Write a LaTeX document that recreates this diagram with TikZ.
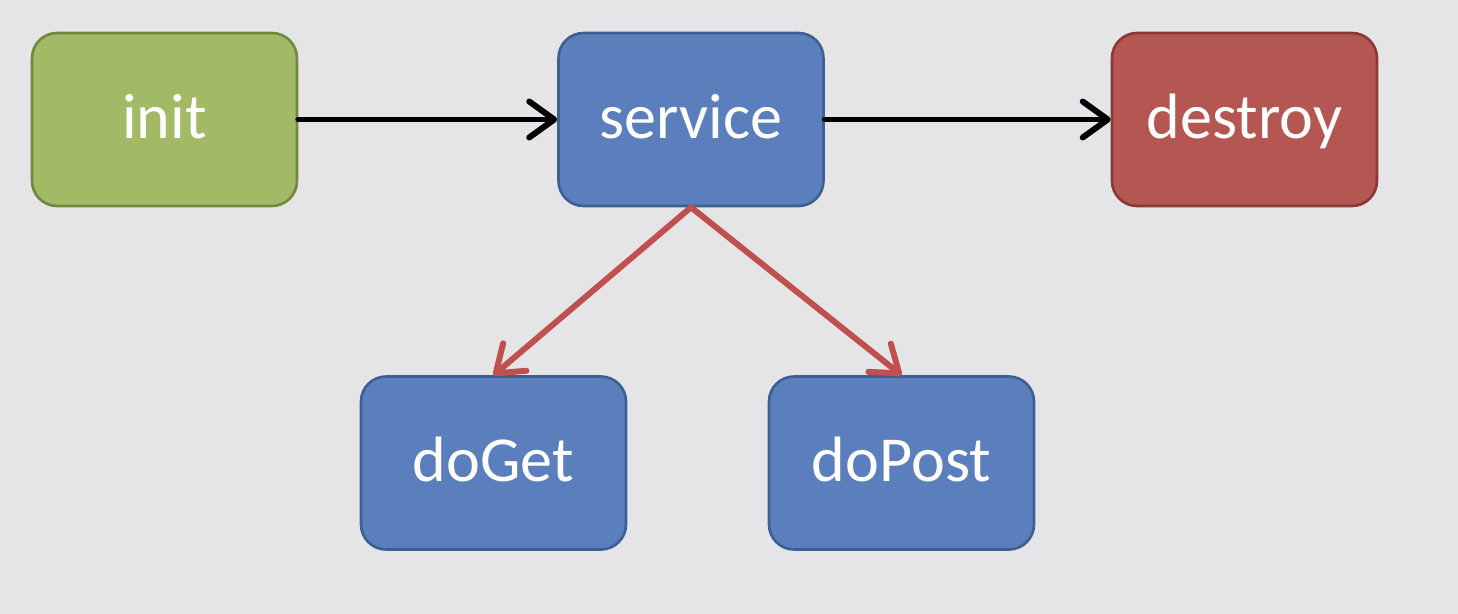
\documentclass[tikz,border=0pt]{standalone}
\usepackage{fontspec}
\setmainfont{Carlito}
\usetikzlibrary{arrows.meta}

\definecolor{bggray}{RGB}{229,229,231}
\definecolor{initgreen}{RGB}{162,185,102}
\definecolor{initedge}{RGB}{113,137,63}
\definecolor{callblue}{RGB}{91,127,189}
\definecolor{calledge}{RGB}{60,95,148}
\definecolor{endred}{RGB}{180,87,82}
\definecolor{endedge}{RGB}{140,56,54}
\definecolor{linkred}{RGB}{192,80,77}

\begin{document}
\begin{tikzpicture}[x=0.02cm, y=-0.02cm,
	phase/.style={draw, line width=1.5pt, rounded corners=0.5cm, minimum width=5.3cm, minimum height=3.46cm, inner sep=0pt, text=white, text height=21.6pt, text depth=0pt, font=\fontsize{36.5}{42}\selectfont},
	flow/.style={line width=3.4pt, line cap=round, -{Straight Barb[round, length=0.5cm, width=0.72cm]}}]
		\useasboundingbox[fill=bggray] (0,0) rectangle (1458,614);
		\node[phase, fill=initgreen, draw=initedge] (init) at (164.5,119.5) {init};
		\node[phase, fill=callblue, draw=calledge] (service) at (691,119.5) {service};
		\node[phase, fill=endred, draw=endedge] (destroy) at (1244.5,119.5) {destroy};
		\node[phase, fill=callblue, draw=calledge] (doGet) at (493.5,463) {doGet};
		\node[phase, fill=callblue, draw=calledge] (doPost) at (901.5,463) {doPost};
		
		\draw[flow, black] (init) to node {} (service);
		\draw[flow, black] (service) to node {} (destroy);
		\draw[flow, linkred] (service.south) to node {} (doGet.north);
		\draw[flow, linkred] (service.south) to node {} (doPost.north);
		
	\end{tikzpicture}
\end{document}
